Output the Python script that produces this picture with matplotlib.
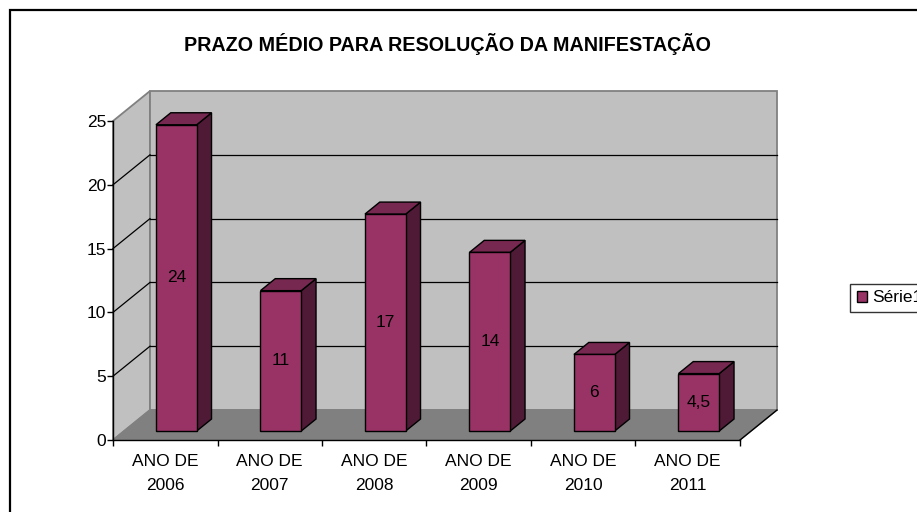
import matplotlib.pyplot as plt
from matplotlib.patches import Polygon, Rectangle, Patch

plt.rcParams['font.family'] = ['Liberation Sans', 'DejaVu Sans']

categories = ["ANO DE\n2006", "ANO DE\n2007", "ANO DE\n2008",
              "ANO DE\n2009", "ANO DE\n2010", "ANO DE\n2011"]
values = [24, 11, 17, 14, 6, 4.5]
value_labels = ["24", "11", "17", "14", "6", "4,5"]
yticks = [0, 5, 10, 15, 20, 25]

W, H = 917, 512
fig = plt.figure(figsize=(W / 100, H / 100), dpi=100)
ax = fig.add_axes([113 / W, (H - 440) / H, 627 / W, 319 / H])
ax.set_xlim(-0.5, len(values) - 0.5)
ax.set_ylim(0, 25)

# depth offset (in data units) of the back wall
dx, dy = 0.354, 2.35
x0, x1 = -0.5, len(values) - 0.5
top = 25

wall = "#C0C0C0"
floor = "#808080"
edge = "#808080"

ax.add_patch(Polygon([(x0, 0), (x0 + dx, dy), (x0 + dx, top + dy), (x0, top)],
                     closed=True, fc=wall, ec=edge, lw=1.3, clip_on=False, zorder=0))
ax.add_patch(Polygon([(x0 + dx, dy), (x1 + dx, dy), (x1 + dx, top + dy), (x0 + dx, top + dy)],
                     closed=True, fc=wall, ec=edge, lw=1.3, clip_on=False, zorder=0))
ax.add_patch(Polygon([(x0, 0), (x1, 0), (x1 + dx, dy), (x0 + dx, dy)],
                     closed=True, fc=floor, ec=edge, lw=1.0, clip_on=False, zorder=0.5))

for v in yticks[1:-1]:
    ax.plot([x0 + dx, x1 + dx], [v + dy, v + dy], color="black", lw=0.9, clip_on=False, zorder=1)
    ax.plot([x0, x0 + dx], [v, v + dy], color="black", lw=0.9, clip_on=False, zorder=1)

# bars
bw = 0.39
d0, d1 = 0.3, 0.4
front_c = "#993366"
top_c = "#772850"
side_c = "#4F1A36"
for i, v in enumerate(values):
    bx0 = i - bw / 2 + d0 * dx
    bx1 = bx0 + bw
    b = d0 * dy
    ox, oy = d1 * dx, d1 * dy
    ax.add_patch(Polygon([(bx1, b), (bx1 + ox, b + oy), (bx1 + ox, b + v + oy), (bx1, b + v)],
                         closed=True, fc=side_c, ec="black", lw=1.0, clip_on=False, zorder=3))
    ax.add_patch(Polygon([(bx0, b + v), (bx1, b + v), (bx1 + ox, b + v + oy), (bx0 + ox, b + v + oy)],
                         closed=True, fc=top_c, ec="black", lw=1.0, clip_on=False, zorder=3))
    ax.add_patch(Rectangle((bx0, b), bw, v, fc=front_c, ec="black", lw=1.0, clip_on=False, zorder=4))
    ax.text((bx0 + bx1) / 2, b + v / 2, value_labels[i], ha="center", va="center",
            fontsize=12.5, zorder=5)

ax.set_facecolor("none")
for s in ["top", "right"]:
    ax.spines[s].set_visible(False)
for s in ["left", "bottom"]:
    ax.spines[s].set_color("black")
    ax.spines[s].set_linewidth(1.0)
    ax.spines[s].set_zorder(2)

ax.set_yticks(yticks)
ax.set_yticklabels([str(t) for t in yticks], fontsize=12.5)
ax.tick_params(axis="y", direction="out", length=4, width=1, pad=1)

ax.set_xticks(range(len(values)))
ax.set_xticklabels(categories, fontsize=12.5, linespacing=1.8)
ax.set_xticks([k - 0.5 for k in range(len(values) + 1)], minor=True)
ax.tick_params(axis="x", which="major", length=0, pad=10)
ax.tick_params(axis="x", which="minor", direction="out", length=4, width=1)

# floor right edge
ax.plot([x1, x1 + dx], [0, dy], color="black", lw=1.0, clip_on=False, zorder=2)

fig.text(447 / W, 1 - 44 / H, "PRAZO MÉDIO PARA RESOLUÇÃO DA MANIFESTAÇÃO",
         ha="center", va="center", fontsize=14.2, fontweight="bold")

leg = fig.legend(handles=[Patch(fc=front_c, ec="black", lw=1.0, label="Série1")],
                 loc="center left", bbox_to_anchor=(850 / W, 1 - 298 / H),
                 fontsize=12.5, frameon=True, fancybox=False, handlelength=0.6,
                 handleheight=0.6, handletextpad=0.3, borderpad=0.4, borderaxespad=0)
leg.get_frame().set_edgecolor("black")
leg.get_frame().set_linewidth(1.0)

fig.patches.append(Rectangle((10 / W, -0.05), 1.2, 1 - 10 / H + 0.05, transform=fig.transFigure,
                             fill=False, ec="black", lw=1.6, figure=fig))

fig.savefig("out.png", dpi=100)
